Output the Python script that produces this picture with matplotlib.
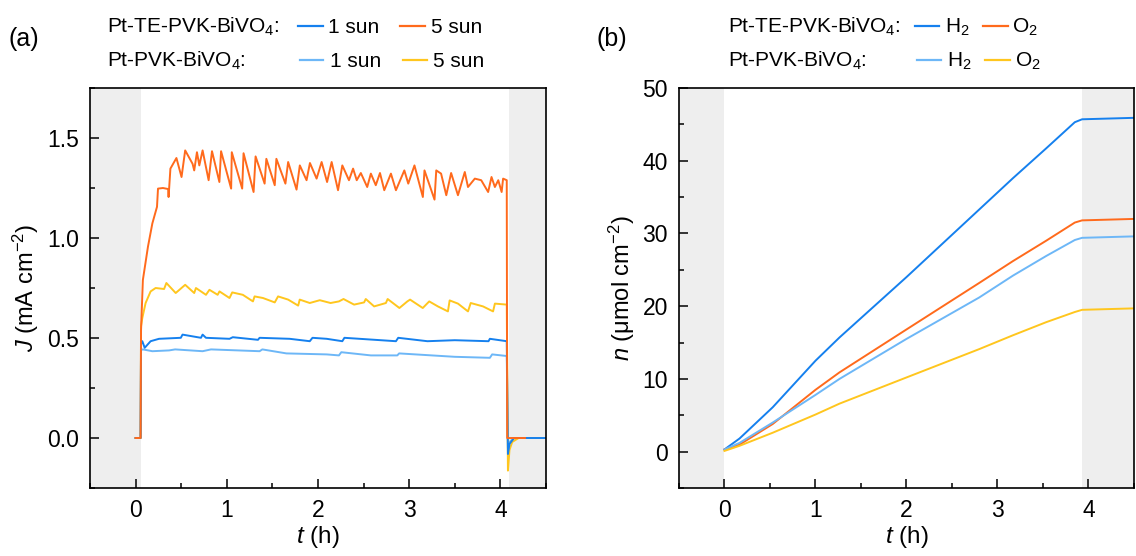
import numpy as np
import matplotlib
matplotlib.use("Agg")
import matplotlib.pyplot as plt
from matplotlib.lines import Line2D

plt.rcParams['font.family'] = ['Liberation Sans', 'DejaVu Sans']
plt.rcParams['mathtext.fontset'] = 'custom'
plt.rcParams['mathtext.rm'] = 'Liberation Sans'
plt.rcParams['mathtext.it'] = 'Liberation Sans:italic'

c_te1 = '#1580ee'
c_pvk1 = '#6db7f7'
c_te5 = '#ff6a1c'
c_pvk5 = '#ffc61e'
shade = '#eeeeee'

# (a) photocurrent
t_te5 = [0.0, 0.055, 0.06, 0.08, 0.136, 0.184, 0.235, 0.246, 0.30, 0.357, 0.362, 0.382,
         0.448, 0.504, 0.544, 0.625, 0.643, 0.673, 0.699, 0.735, 0.801, 0.838, 0.919,
         0.9375, 1.048, 1.055, 1.169, 1.184, 1.294, 1.316, 1.415, 1.434, 1.526, 1.544,
         1.643, 1.673, 1.765, 1.801, 1.875, 1.912, 1.985, 2.040, 2.10, 2.15, 2.22, 2.267,
         2.34, 2.385, 2.425, 2.47, 2.54, 2.58, 2.634, 2.68, 2.727, 2.80, 2.855, 2.947,
         2.99, 3.058, 3.15, 3.168, 3.278, 3.297, 3.35, 3.407, 3.46, 3.535, 3.61, 3.645,
         3.72, 3.79, 3.866, 3.903, 3.94, 3.977, 4.014, 4.03, 4.07, 4.075, 4.27]
J_te5 = [0.0, 0.0, 0.54, 0.79, 0.957, 1.073, 1.156, 1.247, 1.25, 1.245, 1.205, 1.347,
         1.40, 1.305, 1.438, 1.371, 1.338, 1.429, 1.363, 1.438, 1.289, 1.434, 1.280,
         1.434, 1.247, 1.429, 1.247, 1.424, 1.230, 1.408, 1.272, 1.396, 1.264, 1.396,
         1.272, 1.380, 1.242, 1.363, 1.289, 1.375, 1.297, 1.380, 1.28, 1.38, 1.239, 1.363,
         1.289, 1.347, 1.289, 1.325, 1.255, 1.322, 1.264, 1.325, 1.239, 1.322, 1.239, 1.338,
         1.272, 1.363, 1.205, 1.338, 1.192, 1.338, 1.322, 1.214, 1.325, 1.214, 1.330, 1.255,
         1.297, 1.289, 1.230, 1.305, 1.255, 1.289, 1.23, 1.297, 1.289, 0.0, 0.0]

t_pvk5 = [0.0, 0.055, 0.06, 0.074, 0.11, 0.165, 0.22, 0.3125, 0.338, 0.44, 0.544, 0.643,
          0.662, 0.772, 0.81, 0.90, 0.92, 1.03, 1.06, 1.176, 1.287, 1.305, 1.397, 1.526,
          1.5625, 1.673, 1.783, 1.80, 1.91, 2.02, 2.138, 2.23, 2.28, 2.396, 2.506, 2.524,
          2.616, 2.745, 2.764, 2.893, 2.98, 3.01, 3.149, 3.22, 3.315, 3.425, 3.444, 3.535,
          3.645, 3.675, 3.81, 3.92, 3.94, 4.07, 4.083, 4.10, 4.13, 4.2, 4.5]
J_pvk5 = [0.0, 0.0, 0.56, 0.60, 0.675, 0.733, 0.750, 0.745, 0.775, 0.725, 0.766, 0.725,
          0.750, 0.716, 0.741, 0.716, 0.733, 0.70, 0.728, 0.716, 0.683, 0.708, 0.70, 0.678,
          0.708, 0.692, 0.662, 0.692, 0.675, 0.689, 0.675, 0.683, 0.695, 0.667, 0.678, 0.695,
          0.658, 0.675, 0.695, 0.650, 0.683, 0.692, 0.650, 0.683, 0.658, 0.633, 0.688, 0.672,
          0.633, 0.675, 0.658, 0.633, 0.672, 0.667, -0.163, -0.06, -0.02, 0.0, 0.0]

t_te1 = [0.0, 0.055, 0.06, 0.074, 0.10, 0.165, 0.257, 0.496, 0.515, 0.717, 0.735, 0.772,
         1.03, 1.066, 1.342, 1.36, 1.69, 1.91, 1.94, 2.096, 2.267, 2.29, 2.855, 2.88,
         3.2, 3.5, 3.87, 3.885, 4.07, 4.083, 4.10, 4.15, 4.5]
J_te1 = [0.0, 0.0, 0.47, 0.484, 0.451, 0.484, 0.496, 0.501, 0.517, 0.501, 0.517, 0.501,
         0.496, 0.504, 0.491, 0.501, 0.496, 0.484, 0.501, 0.496, 0.484, 0.501, 0.484, 0.501,
         0.484, 0.489, 0.484, 0.496, 0.484, -0.08, -0.03, 0.0, 0.0]

t_pvk1 = [0.0, 0.055, 0.06, 0.08, 0.184, 0.368, 0.434, 0.735, 0.827, 1.36, 1.39, 1.654,
          2.096, 2.23, 2.256, 2.58, 2.87, 2.89, 3.5, 3.885, 3.91, 4.07, 4.083, 4.10, 4.15, 4.5]
J_pvk1 = [0.0, 0.0, 0.44, 0.443, 0.434, 0.438, 0.443, 0.434, 0.443, 0.434, 0.443, 0.423,
          0.418, 0.413, 0.429, 0.413, 0.413, 0.423, 0.406, 0.401, 0.418, 0.41, -0.05, -0.02, 0.0, 0.0]

# (b) evolved gas amount
t_gas = [0.0, 0.165, 0.53, 1.0, 1.264, 2.0, 2.8, 3.17, 3.535, 3.85, 3.93, 4.5]
n_te_h2 = [0.3, 1.8, 6.1, 12.5, 15.7, 24.0, 33.3, 37.6, 41.7, 45.3, 45.7, 45.9]
n_te_o2 = [0.3, 0.96, 3.8, 8.5, 10.9, 16.8, 23.2, 26.2, 29.0, 31.5, 31.8, 32.0]
n_pvk_h2 = [0.3, 1.2, 4.0, 7.8, 10.0, 15.5, 21.2, 24.2, 26.9, 29.1, 29.4, 29.6]
n_pvk_o2 = [0.1, 0.8, 2.6, 5.1, 6.6, 10.2, 14.1, 16.0, 17.8, 19.2, 19.5, 19.7]

fig = plt.figure(figsize=(11.36, 5.56), dpi=100)
ax1 = fig.add_axes([0.0792, 0.1223, 0.4014, 0.7194])
ax2 = fig.add_axes([0.5977, 0.1223, 0.4005, 0.7194])

lw = 1.4
ax1.axvspan(-0.5, 0.055, color=shade, lw=0, zorder=0)
ax1.axvspan(4.09, 4.5, color=shade, lw=0, zorder=0)
ax1.plot(t_pvk1, J_pvk1, color=c_pvk1, lw=lw)
ax1.plot(t_pvk5, J_pvk5, color=c_pvk5, lw=lw)
ax1.plot(t_te1, J_te1, color=c_te1, lw=lw)
ax1.plot(t_te5, J_te5, color=c_te5, lw=lw)
ax1.set_xlim(-0.5, 4.5)
ax1.set_ylim(-0.25, 1.75)
ax1.set_yticks([0.0, 0.5, 1.0, 1.5])
ax1.set_yticklabels(['0.0', '0.5', '1.0', '1.5'])
ax1.set_yticks(np.arange(-0.25, 1.76, 0.25), minor=True)
ax1.set_ylabel(r'$J$ (mA cm$^{-2}$)', fontsize=17, labelpad=4)

ax2.axvspan(-0.5, 0.0, color=shade, lw=0, zorder=0)
ax2.axvspan(3.93, 4.5, color=shade, lw=0, zorder=0)
ax2.plot(t_gas, n_te_h2, color=c_te1, lw=lw)
ax2.plot(t_gas, n_te_o2, color=c_te5, lw=lw)
ax2.plot(t_gas, n_pvk_h2, color=c_pvk1, lw=lw)
ax2.plot(t_gas, n_pvk_o2, color=c_pvk5, lw=lw)
ax2.set_xlim(-0.5, 4.5)
ax2.set_ylim(-5, 50)
ax2.set_yticks([0, 10, 20, 30, 40, 50])
ax2.set_yticks(np.arange(-5, 51, 5), minor=True)
ax2.set_ylabel(r'$n$ (μmol cm$^{-2}$)', fontsize=17, labelpad=4)

for ax in (ax1, ax2):
    ax.set_xticks([0, 1, 2, 3, 4])
    ax.set_xticks(np.arange(-0.5, 4.51, 0.5), minor=True)
    ax.set_xlabel(r'$t$ (h)', fontsize=17.5, labelpad=1)
    ax.tick_params(which='both', direction='in', top=False, right=False, width=1.1,
                   labelsize=16.5, pad=8)
    ax.tick_params(which='major', length=6.5)
    ax.tick_params(which='minor', length=3.8)
    for s in ax.spines.values():
        s.set_linewidth(1.2)

# legends drawn as figure text
H, W = 556.0, 1136.0
def fx(px):
    return px / W
def fy(py):
    return 1 - py / H

fs = 15
def key(x0, x1, y, color):
    fig.add_artist(Line2D([fx(x0), fx(x1)], [fy(y), fy(y)], color=color, lw=1.6,
                          transform=fig.transFigure))

def label(px, py, s, size=fs):
    fig.text(fx(px), fy(py), s, fontsize=size, va='baseline', ha='left')

r1, r2 = 33, 67
k1, k2 = 26, 60

label(8, 46, '(a)', 18)
label(107, r1, r'Pt-TE-PVK-BiVO$_4$:')
label(107, r2, r'Pt-PVK-BiVO$_4$:')
key(298, 323, k1, c_te1)
label(328, r1, '1 sun')
key(400, 425, k1, c_te5)
label(431, r1, '5 sun')
key(300, 323, k2, c_pvk1)
label(330, r2, '1 sun')
key(403, 427, k2, c_pvk5)
label(433, r2, '5 sun')

label(597, 46, '(b)', 18)
label(728, r1, r'Pt-TE-PVK-BiVO$_4$:')
label(728, r2, r'Pt-PVK-BiVO$_4$:')
key(915, 939, k1, c_te1)
label(945, r1, r'H$_2$')
key(983, 1008, k1, c_te5)
label(1012, r1, r'O$_2$')
key(917, 941, k2, c_pvk1)
label(947, r2, r'H$_2$')
key(985, 1010, k2, c_pvk5)
label(1015, r2, r'O$_2$')

fig.savefig('out.png', dpi=100)
